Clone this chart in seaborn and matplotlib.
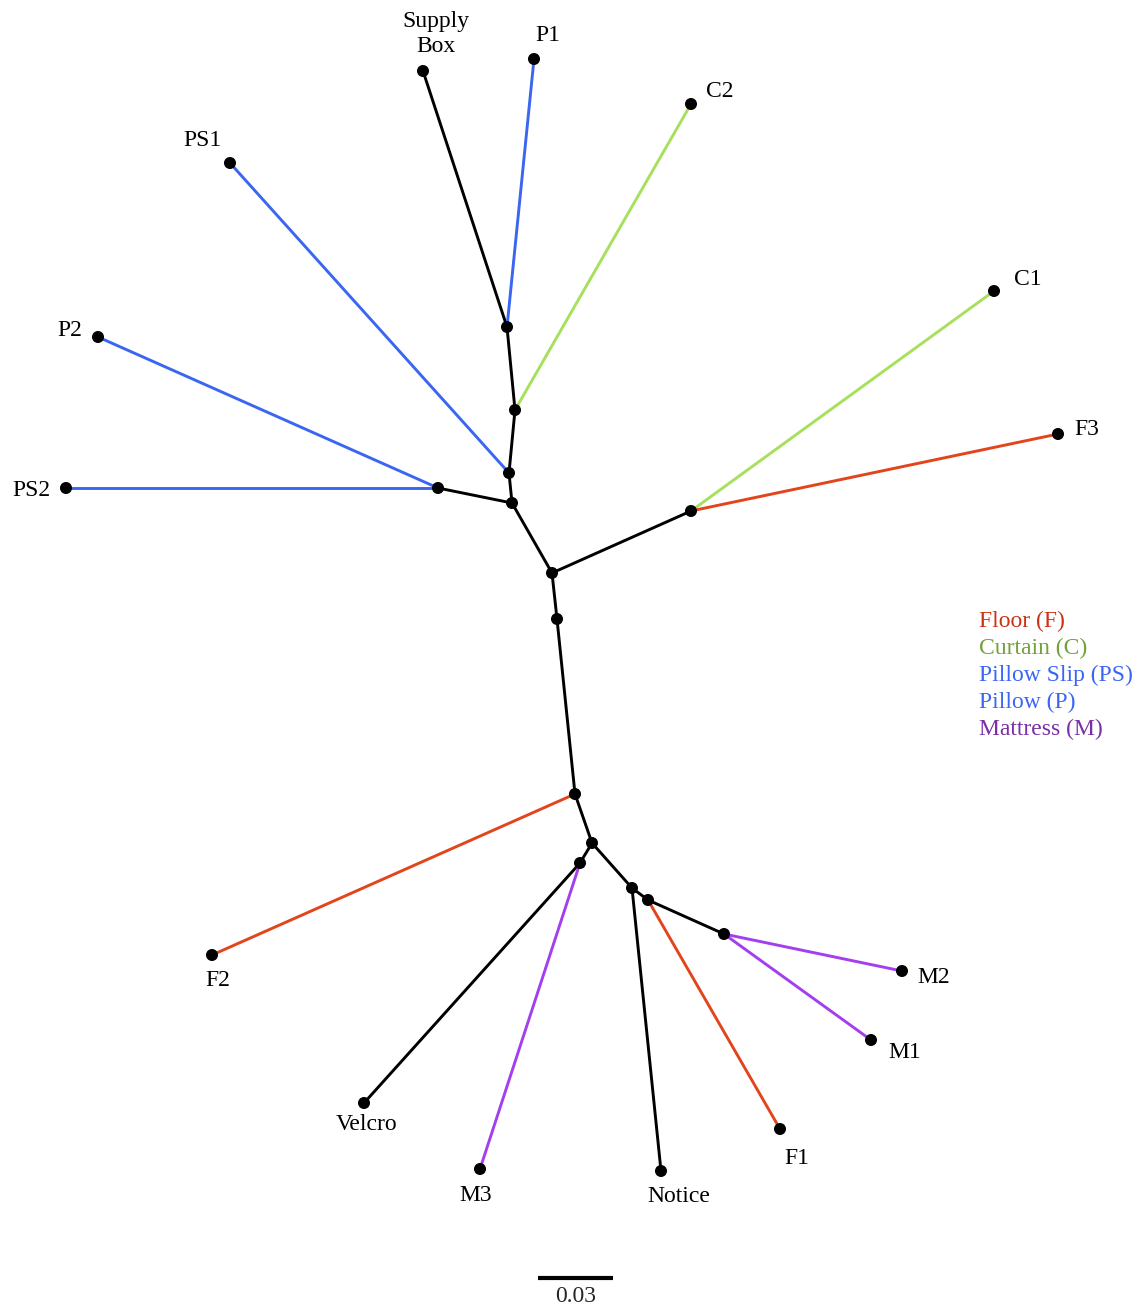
import matplotlib
matplotlib.use("Agg")
import matplotlib.pyplot as plt
import pandas as pd
import seaborn as sns

sns.set_theme(style="white")
plt.rcParams["font.family"] = ["Liberation Serif", "DejaVu Serif"]

# Unrooted tree layout (layout units; 2500 units = 1 substitution/site)
UNIT = 2500.0
node_names = ["n1", "n2", "n3", "n4", "n5", "n6", "n7", "n8", "n9", "n10",
              "n11", "n12", "n13", "n14",
              "Supply\nBox", "P1", "C2", "PS1", "P2", "PS2", "C1", "F3",
              "F2", "Velcro", "M3", "Notice", "F1", "M1", "M2"]
node_x = [507, 515, 509, 512, 438, 552, 691, 557, 575, 592,
          580, 632, 648, 724,
          423, 534, 691, 230, 98, 66, 994, 1058,
          212, 364, 480, 661, 780, 871, 902]
node_y = [327, 410, 473, 503, 488, 573, 511, 619, 794, 843,
          863, 888, 900, 934,
          71, 59, 104, 163, 337, 488, 291, 434,
          955, 1103, 1169, 1171, 1129, 1040, 971]

# Branches: parent, child, sample type
edge_parent = ["n1", "n1", "n1", "n2", "n2", "n3", "n3", "n4", "n5", "n5",
               "n4", "n6", "n7", "n7", "n6", "n8", "n9", "n9", "n10", "n11",
               "n11", "n10", "n12", "n12", "n13", "n13", "n14", "n14"]
edge_child = ["Supply\nBox", "P1", "n2", "C2", "n3", "PS1", "n4", "n5", "P2", "PS2",
              "n6", "n7", "C1", "F3", "n8", "n9", "F2", "n10", "n11", "Velcro",
              "M3", "n12", "Notice", "n13", "F1", "n14", "M2", "M1"]
edge_group = ["other", "pillow", "other", "curtain", "other", "pillow", "other",
              "other", "pillow", "pillow", "other", "other", "curtain", "floor",
              "other", "other", "floor", "other", "other", "other", "mattress",
              "other", "other", "other", "floor", "other", "mattress", "mattress"]

branch_palette = {"other": "#000000", "pillow": "#3a66f2", "curtain": "#a6e05c",
                  "floor": "#e2451c", "mattress": "#a43ff0"}

legend_labels = ["Floor (F)", "Curtain (C)", "Pillow Slip (PS)", "Pillow (P)", "Mattress (M)"]
legend_colors = ["#cc3314", "#72a03a", "#3a66f2", "#3a66f2", "#7a2fa8"]

scale_length = 0.03

# label offsets (points) and alignment for each leaf
label_style = {
    "Supply\nBox": (9, 27, "center"), "P1": (10, 17, "center"), "C2": (11, 9, "left"),
    "PS1": (-20, 16, "center"), "P2": (-20, 4.5, "center"), "PS2": (-25, -2, "center"),
    "C1": (24, 8.5, "center"), "F3": (21, 3, "center"), "F2": (4, -18.5, "center"),
    "Velcro": (2, -15.5, "center"), "M3": (-3, -19, "center"), "Notice": (13, -18, "center"),
    "F1": (12, -21, "center"), "M1": (24, -9, "center"), "M2": (23, -5, "center"),
}

pos = {n: (x, y) for n, x, y in zip(node_names, node_x, node_y)}
rows = []
for i, (p, c, g) in enumerate(zip(edge_parent, edge_child, edge_group)):
    for n in (p, c):
        rows.append({"edge": i, "x": pos[n][0], "y": pos[n][1], "group": g})
edges = pd.DataFrame(rows)
nodes = pd.DataFrame({"name": node_names, "x": node_x, "y": node_y})

fig = plt.figure(figsize=(11.4, 13.05), dpi=100)
ax = fig.add_axes([0, 0, 1, 1])

sns.lineplot(data=edges, x="x", y="y", units="edge", hue="group",
             palette=branch_palette, estimator=None, sort=False,
             linewidth=2.1, legend=False, ax=ax, zorder=2)
sns.scatterplot(data=nodes, x="x", y="y", color="black", s=75,
                edgecolor="none", legend=False, ax=ax, zorder=3)

for name, (dx, dy, ha) in label_style.items():
    ax.annotate(name, pos[name], xytext=(dx, dy), textcoords="offset points",
                ha=ha, va="center", fontsize=17, color="black",
                linespacing=1.25)

# legend for sample types
for i, (lab, col) in enumerate(zip(legend_labels, legend_colors)):
    ax.text(979, 621 + 27 * i, lab, color=col, fontsize=17, ha="left", va="center")

# scale bar
bar_x0 = 538
ax.plot([bar_x0, bar_x0 + scale_length * UNIT], [1278, 1278], color="black",
        linewidth=3, solid_capstyle="butt")
ax.text(bar_x0 + scale_length * UNIT / 2, 1297, f"{scale_length:.2f}",
        ha="center", va="center", fontsize=17)

ax.set_xlim(0, 1140)
ax.set_ylim(1305, 0)
ax.set_axis_off()
fig.savefig("out.png", dpi=100, facecolor="white")
